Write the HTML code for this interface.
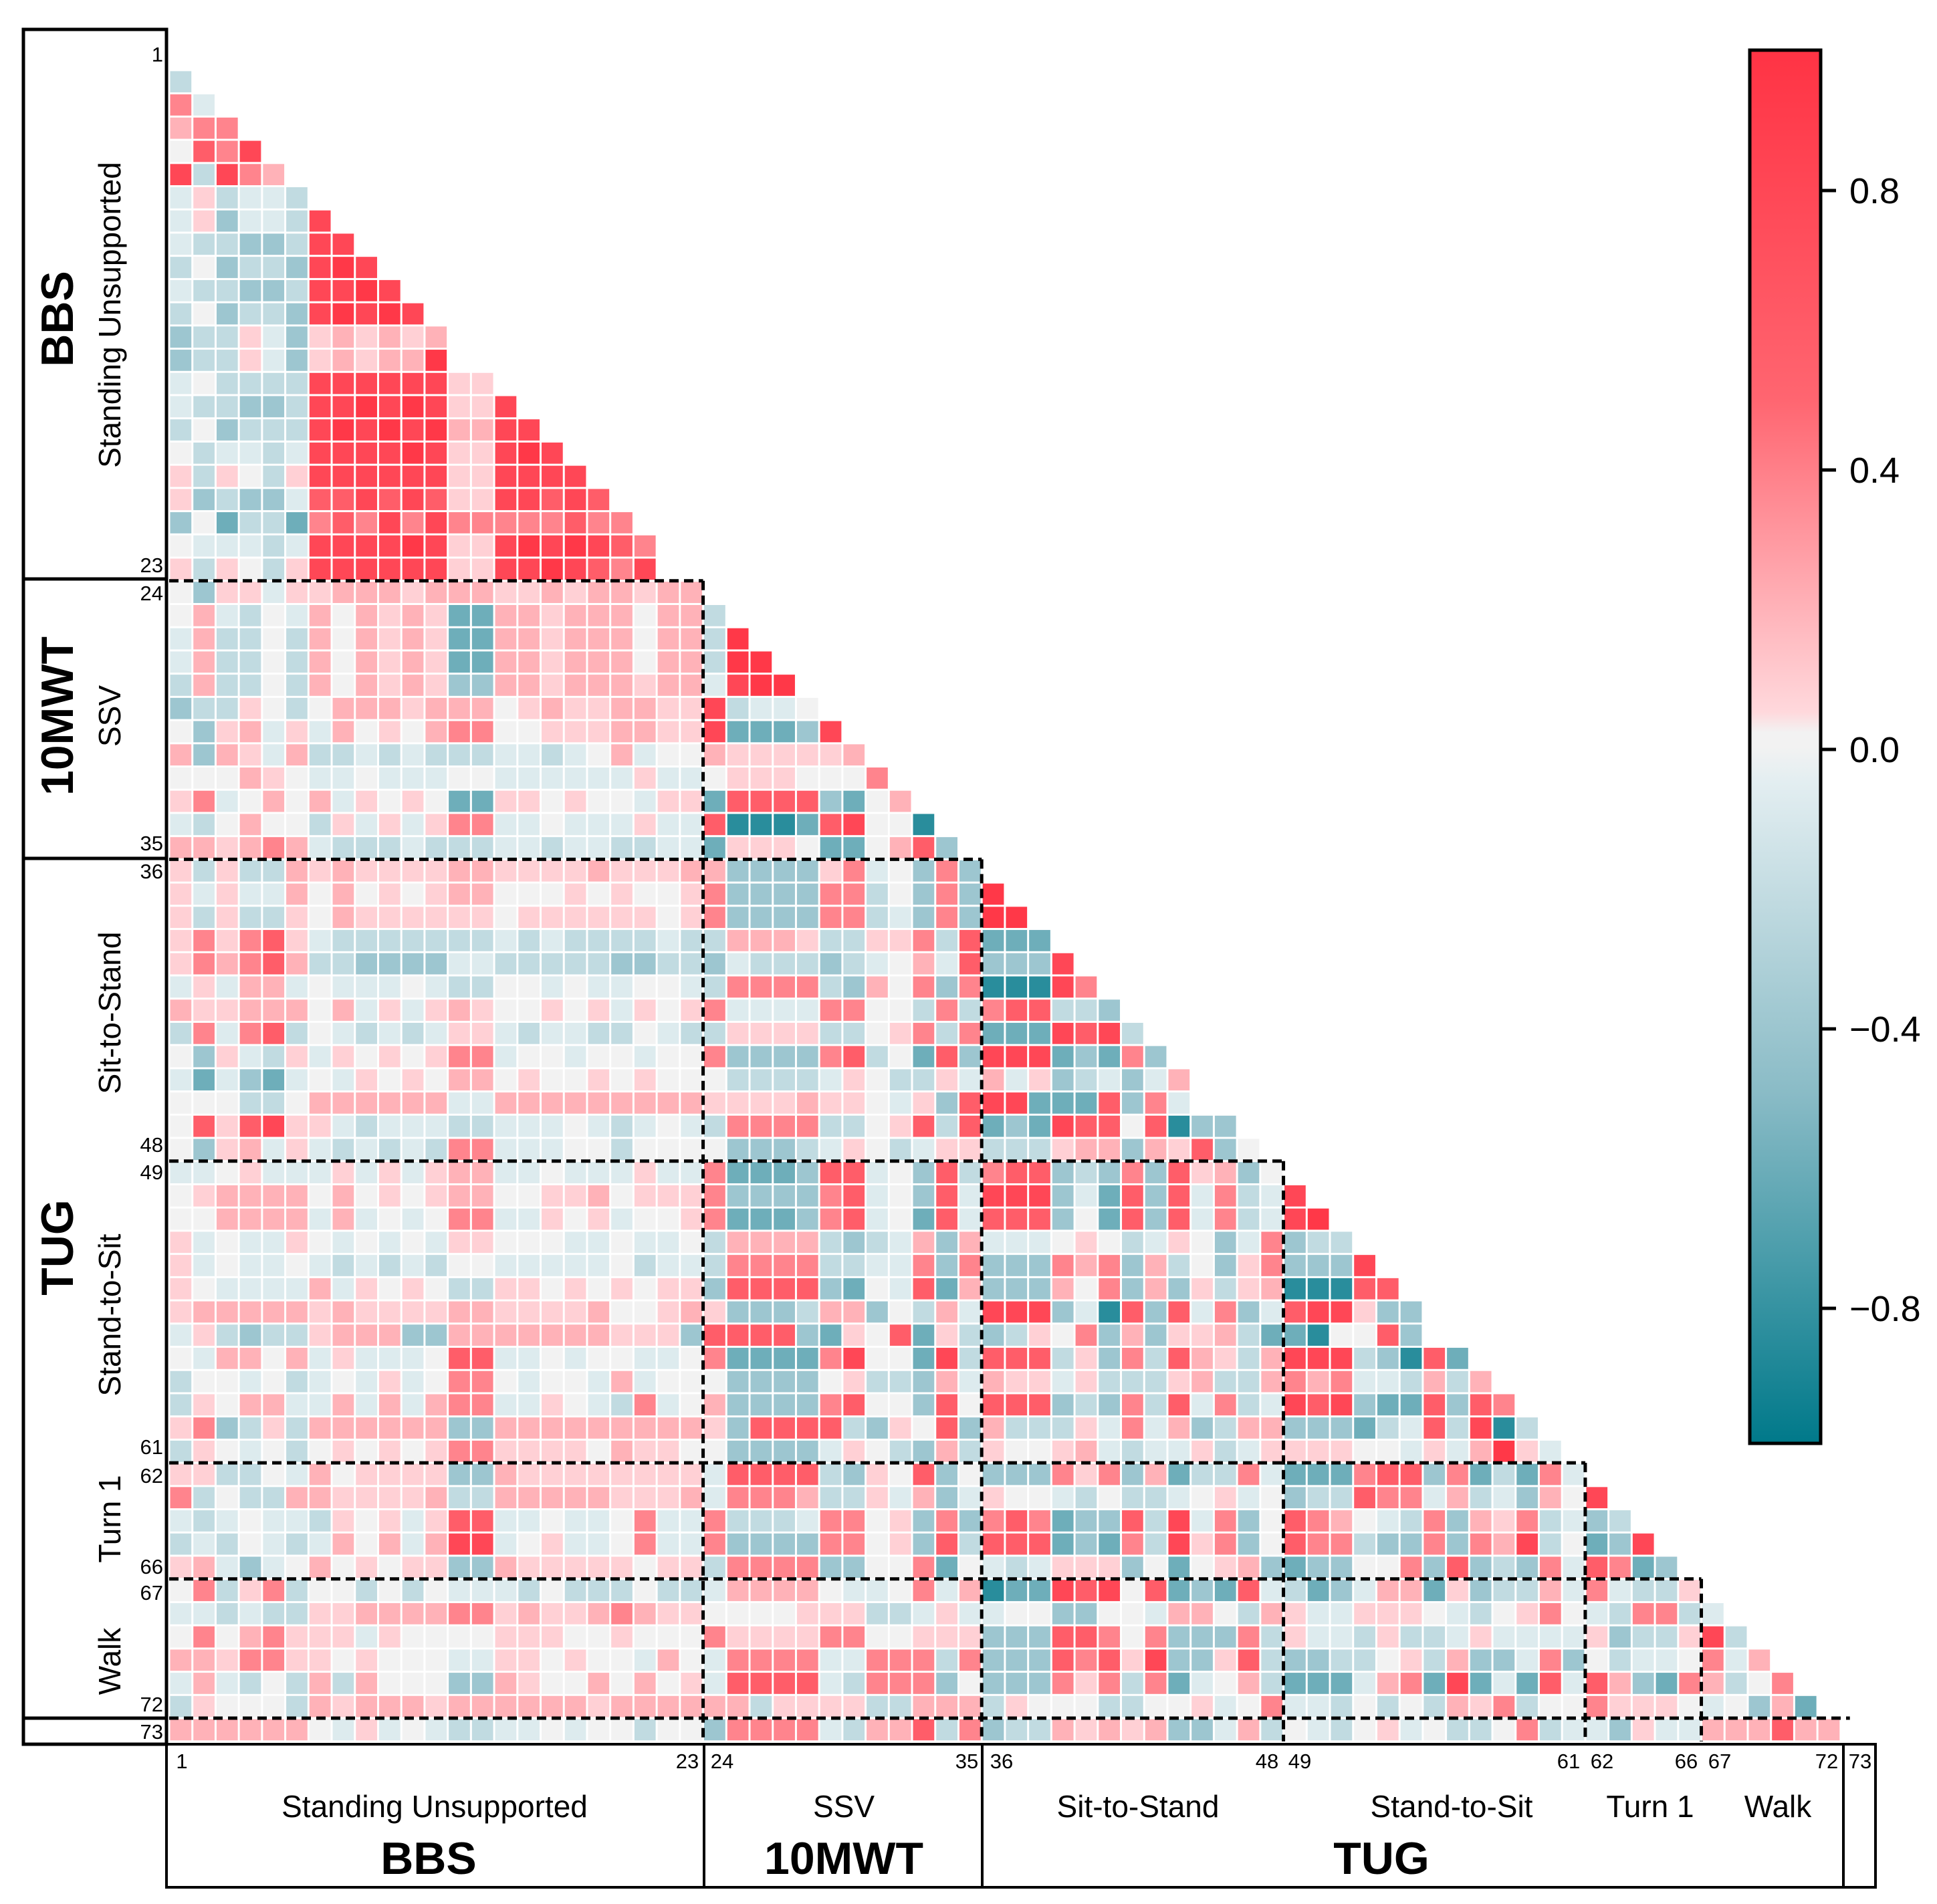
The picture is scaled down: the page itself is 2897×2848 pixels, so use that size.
<!DOCTYPE html>
<html><head><meta charset="utf-8"><style>
html,body{margin:0;padding:0;background:#fff;}
svg{display:block;font-family:"Liberation Sans",sans-serif;}
</style></head><body>
<svg id="chart" width="2897" height="2848" viewBox="0 0 2897 2848" xmlns="http://www.w3.org/2000/svg">
<defs>
<linearGradient id="cbgrad" x1="0" y1="0" x2="0" y2="1">
<stop offset="0" stop-color="#FF3344"/>
<stop offset="0.25" stop-color="#FF6570"/>
<stop offset="0.475" stop-color="#FFD8DC"/>
<stop offset="0.49" stop-color="#F2F2F2"/>
<stop offset="0.5" stop-color="#F2F2F2"/>
<stop offset="0.525" stop-color="#E3EEF1"/>
<stop offset="0.75" stop-color="#89BBC6"/>
<stop offset="1" stop-color="#00798A"/>
</linearGradient>
</defs>
<g id="cells"></g>
<g id="dashes"></g>

<g fill="none" stroke="#000" stroke-width="5">
<rect x="35" y="44" width="214" height="2565"/>
<line x1="35" y1="866" x2="249" y2="866"/>
<line x1="35" y1="1284" x2="249" y2="1284"/>
<line x1="35" y1="2570" x2="249" y2="2570"/>
</g>
<g fill="none" stroke="#000" stroke-width="4">
<rect x="249" y="2609" width="2556" height="214"/>
<line x1="1053" y1="2609" x2="1053" y2="2823"/>
<line x1="1469" y1="2609" x2="1469" y2="2823"/>
<line x1="2757" y1="2609" x2="2757" y2="2823"/>
</g>

<g fill="#000" text-anchor="middle">
<text transform="translate(109,477) rotate(-90)" font-size="68" font-weight="bold">BBS</text>
<text transform="translate(180,471) rotate(-90)" font-size="46">Standing Unsupported</text>
<text transform="translate(109,1071) rotate(-90)" font-size="68" font-weight="bold">10MWT</text>
<text transform="translate(180,1071) rotate(-90)" font-size="46">SSV</text>
<text transform="translate(109,1866) rotate(-90)" font-size="68" font-weight="bold">TUG</text>
<text transform="translate(180,1515) rotate(-90)" font-size="46">Sit-to-Stand</text>
<text transform="translate(180,1967) rotate(-90)" font-size="46">Stand-to-Sit</text>
<text transform="translate(180,2272) rotate(-90)" font-size="46">Turn 1</text>
<text transform="translate(180,2485) rotate(-90)" font-size="46">Walk</text>
</g>

<g fill="#000" text-anchor="middle">
<text x="650" y="2718" font-size="46">Standing Unsupported</text>
<text x="1262" y="2718" font-size="46">SSV</text>
<text x="1702" y="2718" font-size="46">Sit-to-Stand</text>
<text x="2171" y="2718" font-size="46">Stand-to-Sit</text>
<text x="2468" y="2718" font-size="46">Turn 1</text>
<text x="2659" y="2718" font-size="46">Walk</text>
<text x="641" y="2803" font-size="68" font-weight="bold">BBS</text>
<text x="1262" y="2803" font-size="68" font-weight="bold">10MWT</text>
<text x="2066" y="2803" font-size="68" font-weight="bold">TUG</text>
</g>

<g fill="#000" text-anchor="end" font-size="31">
<text x="244" y="92">1</text><text x="244" y="856">23</text><text x="244" y="898">24</text>
<text x="244" y="1272">35</text><text x="244" y="1314">36</text><text x="244" y="1723">48</text>
<text x="244" y="1764">49</text><text x="244" y="2175">61</text><text x="244" y="2218">62</text>
<text x="244" y="2354">66</text><text x="244" y="2393">67</text><text x="244" y="2560">72</text>
<text x="244" y="2601">73</text>
</g>
<g fill="#000" text-anchor="middle" font-size="31">
<text x="272" y="2645">1</text><text x="1028" y="2645">23</text><text x="1080" y="2645">24</text>
<text x="1446" y="2645">35</text><text x="1498" y="2645">36</text><text x="1895" y="2645">48</text>
<text x="1944" y="2645">49</text><text x="2346" y="2645">61</text><text x="2396" y="2645">62</text>
<text x="2522" y="2645">66</text><text x="2572" y="2645">67</text><text x="2732" y="2645">72</text>
<text x="2782" y="2645">73</text>
</g>

<g>
<rect x="2617" y="75" width="106" height="2084" fill="url(#cbgrad)" stroke="#000" stroke-width="5"/>
<g id="cbticks" stroke="#000" stroke-width="5"></g>
<g fill="#000" font-size="54">
<text x="2766" y="304">0.8</text>
<text x="2766" y="722">0.4</text>
<text x="2766" y="1140">0.0</text>
<text x="2766" y="1558">−0.4</text>
<text x="2766" y="1976">−0.8</text>
</g>
</g>
</svg>
<script>
// ---- data ----
var codes = "ABCDE0edcbaz";
var codeValues = [-0.85,-0.6,-0.4,-0.22,-0.08,0,0.08,0.2,0.38,0.58,0.8,0.95];
var groupBreaks = [23,35,48,61,66,72];
var cbTicks = [0.8,0.4,0.0,-0.4,-0.8];
var rows = [
"","D","cE","dcc","0bca","aDacd","EeDEED","EeCEEDa","EDDCCDaa","D0CDDCaza","EDDCCDaaza","D0CDDCazaza",
"CDDeECededed","CDDeECededdz","E0DDDDaaaaaaee","EDDCCDaazazaeea","D0CDDDazazazddaa","0DEEDEaaaazaeeaza",
"eDe0Deaaaaaaeeaaaa","eCDCCEbbababeeaabab","C0BDDBcbcacacccccbccc".slice(0,20),"0EEEDEaaaazaeeazazabc","eDe0Deaaaaaaeeaazabca",
"0CeeEeedddedddeededdedd",
"0dED0Ed0dedeBBddeddd0ddD",
"EdDD0Dd0dedeBBddeddd0ddDz",
"EdDD0Dd0dedeBBddeddd0ddDzz",
"DdDD0Dd0dedeCCddedddeddEazz",
"CDDe0D0dddeddd0edeeddeeaDEE0",
"0CedEeEd0e0dcc00eeeddeeaBBBCa",
"dCdeEdDDEDEDDDEEDE0dE00deeeeed".slice(0,30),
"000de0EE0EEE00EEEEEEeEE0eee000c",
"ecE0d0dEe0e0BBee0e00EeeBbbbbCB0d",
"ED0d00DeEeEeccEE0EEEeEEbAAABba00A",
"ddedcdEDDDEDDDEEDEEDDEEBeee0BB0dbC",
"eDeDDdedeeeeddeeeedeeeddCCCCecE0CcC",
"eEeEEd0d0e0edd000e0e00ecCCCCccD0CcCz",
"eDeDDe0deeeeee0eeeeee0ecCCCCccDECcCzz",
"ececbeEDDDDDDDEDEDDDDEDDdddeDDeecDbBBB",
"ecdcbdDDCCCCEEDDDDDCCDDCEDDDCDE0dEbCCCa",
"EeEddE0EEE0EDD00E0EE00EDccccDCd0cCcAAAac",
"deeddd0dEeEede00e0eEe0ecEEEEcc00DcDcbbDDC",
"DcEcbD0EDEDEeeEDEEDD0EDDeeeeDD0ecDcBBBabaD",
"0CeEDeEe0e0eccE00E00E00cCCCCcbD0BbCaaaBCBcC",
"EBECBE0Ee0e0dd0e00e0e000DDDDEe0DDeEdEeCDECEd",
"000DD0ddddddEEdddddddddeeeedee0EeCbaaBBBbCcE",
"0bebaeeEDEEEDDEEE0EDE0EDccccDD0ebDbBCBabb0bACC",
"0CedEeEDEDEDccEEE00D0000CCCDEe0DEeeDDDeddCdebC0",
"EE0eEEEeEeEeddEE0EEEeEEcBBBCbbE0CbDcbbCDCcCbedC0",
"0edddd0d0e0edd00eed0eeecCCCCcbE0CbEaaaCEBbCbEcDEa",
"00ddddEdE0E0ccEEe0eE00ecBBBCcbE0BbEbbbC0BbCbEcDEaz",
"eE0EEe0E0E0Eee000EE0EE0DddddDCDEdCdEEE0e0DEe0CEcCDD",
"eE0EE0EDEDED00EEEEE0DEEDccccDDEEcCcCCCcdcCdD0CecCCCa",
"e0EEEEdEe0e0DDee0e0e0eeCbbbbCB0EbBdCCCd0cCdCeDedAAAbb",
"edddddedeeeeddeeeed00edeCCCDddC0DdEaaaCEAbCbEcCEbaaeCC",
"EeDCDDddddddCCdddddddeeeCbbbbCBe0bBeDCDe0cCdCeedDBBA00bC".replace("dddddd","eddd"),
"0Edd0dEeEEE0bbEE0E00EE0cBBBBca00BaDbbbDeCcDbdeDdaaaDCAbB",
"D00E0DE0EeE0cc0E00EdE000CCCC0eDDCdEdeeEeDDDedDDdcdcEEDdDd",
"De0ddEEdEdEdccEEe0EDcE0dCCCCcb00Cb0bbbCDCcDbEcDEabaCBBbCbc",
"ecCDeDddddddCCdddddddddeCbbbbDCe0bCdDDDeEcEdCDddCCCBDEbDaADE",
"De0E0D0e0e0ecceeee0dee00CCCCEe0DCdDe00edEDEEeDEeeee00EeEdzeE",
"eeDD0Ed0eeeeCCdeeeeeeeeEbbbbDCe0bC0CCCcecCdBDDcEBBBcbbCcBDBcE",
"cD0DDddeeeedDDdddddeeedEcccdDDeEdCEe00ED0DDE0eE0CDDbccEdDECd0a",
"EDE0EEDe0eEebbEE0EE0cEEcDDDEcc0eCcCcbcBCCbDaEcC0bcd0EDcCdecDECD",
"DED0EDEd0dEdaaE0eEE0cEEcCCCCcc0eCbDbbbBCBcDaecC0bccDCCcCcdaD0BCa",
"edECE0d0e0eeCCdeeeee0eeDccccCC00cB0EDEeeeC0B0edCBCC00cCbCDCcEbcBC",
"0cDecD00D0D0EEED0DDD0DDEdddd0EE0cEdABBaba0bBCBbEDBCEddBeCDDdEcEDDe",
"EEDEDDeeddddccedeedcdee0000eeeDDEeEE00CC00Edd0DdeEEeee0ED0ec0EDccDE",
"0c0dceeeEe0000eee00e000ceeeecc00eeeCCCbbc0cCCCcDeEEDeDDEeEEEEeCDDeaD",
"ddeccee0e000EEee0e00Ed0EccccEEcccDcCCCbcbeaCCebDCCDD0eDdCCEcC0DEE0cEd",
"EdED0DdDd000CCde00d0d0eEbbbbEDcccC0CCCcecDcBE0dDBBBEdcBaBEBbEbdCBcdD0c",
"De000DdedddeddddddeddddddDeeeeDDdddDe000DD00eE0cEED0D0DdecD00ceee0E0CdBdc".slice(0,71),
"dddddd0EeE0EDDEE0E00D00CccccEDddbDcCDDdededCCEdD0ED0eE0DD0cDEECeEEdddbdd"
];
// ---- geometry ----
var L = 253, T = 70.2, CW = 34.72;
function xPos(col){ return L + col*CW; }
function yPos(row){ return T + row*CW; }
var stops = [[-1,[0,121,138]],[-0.5,[137,187,198]],[-0.05,[227,238,241]],[0,[242,242,242]],[0.05,[255,216,220]],[0.5,[255,101,112]],[1,[255,51,68]]];
function colorOf(v){
  for (var i=0;i<stops.length-1;i++){
    var a=stops[i],b=stops[i+1];
    if (v<=b[0]){ var t=(v-a[0])/(b[0]-a[0]); t=Math.max(0,Math.min(1,t));
      var c=a[1].map(function(x,k){return Math.round(x+(b[1][k]-x)*t);});
      return "rgb("+c.join(",")+")"; }
  }
  return "rgb(255,51,68)";
}
var NS="http://www.w3.org/2000/svg";
var cellsG=document.getElementById("cells");
for (var r=0;r<rows.length;r++){
  var s=rows[r];
  for (var c=0;c<s.length && c<r;c++){
    var v=codeValues[codes.indexOf(s[c])];
    if (isNaN(v)) v=0;
    var rect=document.createElementNS(NS,"rect");
    rect.setAttribute("x",xPos(c)+1.5);
    rect.setAttribute("y",yPos(r)+1.5);
    rect.setAttribute("width",CW-3);
    rect.setAttribute("height",CW-3);
    rect.setAttribute("fill",colorOf(v));
    
    
    cellsG.appendChild(rect);
  }
}
var dG=document.getElementById("dashes");
var bottom=yPos(73);
groupBreaks.forEach(function(k){
  var h=document.createElementNS(NS,"line");
  h.setAttribute("x1",L); h.setAttribute("x2",xPos(k)+(k==72?CW*0.4:0));
  h.setAttribute("y1",yPos(k)); h.setAttribute("y2",yPos(k));
  h.setAttribute("stroke","#000"); h.setAttribute("stroke-width","5"); h.setAttribute("stroke-dasharray","14 8");
  
  
  dG.appendChild(h);
  if (k<72){
    var vl=document.createElementNS(NS,"line");
    vl.setAttribute("x1",xPos(k)); vl.setAttribute("x2",xPos(k));
    vl.setAttribute("y1",yPos(k)); vl.setAttribute("y2",bottom);
    vl.setAttribute("stroke","#000"); vl.setAttribute("stroke-width","5"); vl.setAttribute("stroke-dasharray","14 8");
    
    
    dG.appendChild(vl);
  }
});
function cbY(v){ return 1121 - 1045*v; }
var tG=document.getElementById("cbticks");
cbTicks.forEach(function(v){
  var t=document.createElementNS(NS,"line");
  t.setAttribute("x1",2723); t.setAttribute("x2",2746);
  t.setAttribute("y1",cbY(v)); t.setAttribute("y2",cbY(v));
  
  
  tG.appendChild(t);
});
</script>
</body></html>
